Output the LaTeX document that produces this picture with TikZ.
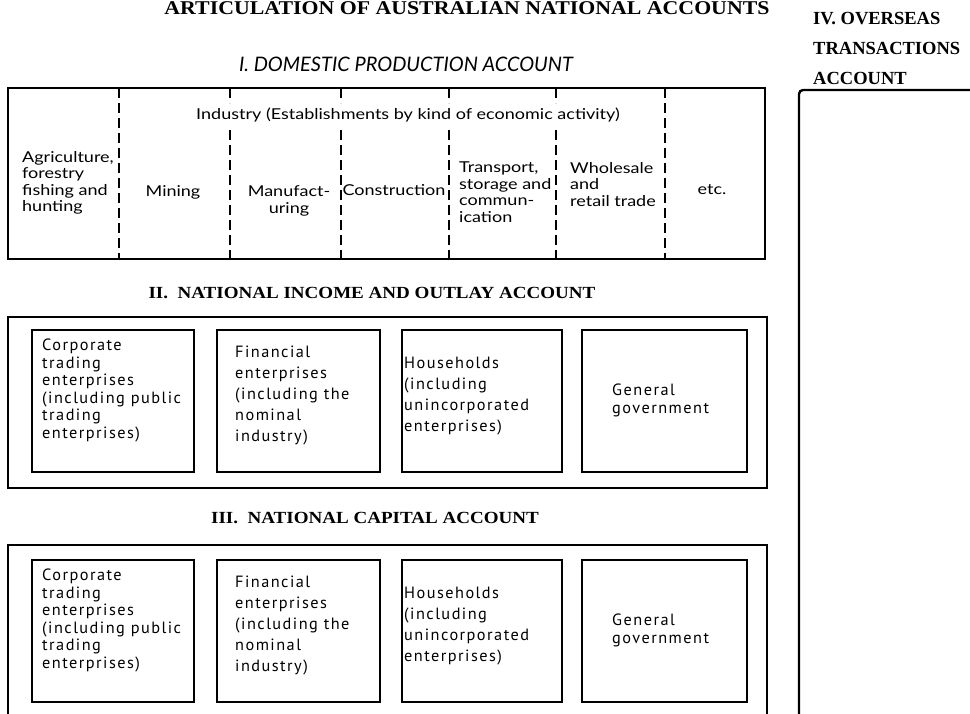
\documentclass[tikz,border=0pt]{standalone}
\usepackage{fontspec}
\setmainfont{Liberation Serif}
\newfontfamily\headfont[FakeStretch=1.12]{Liberation Serif}
\newfontfamily\cellfont[FakeStretch=1.2]{Lato}
\newfontfamily\domfont{Lato}
\newfontfamily\sectorfont[LetterSpace=9]{PT Sans}

\begin{document}
\begin{tikzpicture}[x=1pt,y=-1pt,
  frame/.style={line width=2.4pt},
  sectorbox/.style={line width=1.8pt},
  divider/.style={line width=1.6pt, dash pattern=on 10pt off 5pt},
  heading/.style={font=\headfont\bfseries\fontsize{17}{19}\selectfont, anchor=base},
  cell/.style={font=\cellfont\fontsize{15}{16.5}\selectfont, align=left, inner sep=0pt},
  sector/.style={font=\sectorfont\fontsize{16.3}{17.5}\selectfont, align=left, inner sep=0pt, anchor=north west},
  sectorwide/.style={sector, font=\sectorfont\fontsize{16.3}{21}\selectfont}]
  \useasboundingbox (0,0) rectangle (970,714);

  % titles
  \node[heading, font=\headfont\bfseries\fontsize{19.5}{21}\selectfont] (title) at (467,14.5) {ARTICULATION OF AUSTRALIAN NATIONAL ACCOUNTS};
  \node[anchor=north west, inner sep=0pt, align=left, font=\bfseries\fontsize{18.5}{30}\selectfont] (overseas) at (813,12) {IV. OVERSEAS\\TRANSACTIONS\\ACCOUNT};
  \node[font=\domfont\itshape\fontsize{20}{22}\selectfont] (domestic) at (406,64) {I. DOMESTIC PRODUCTION ACCOUNT};
  \node[heading] (income) at (372,298.5) {II.\ \ NATIONAL INCOME AND OUTLAY ACCOUNT};
  \node[heading] (capital) at (375,523) {III.\ \ NATIONAL CAPITAL ACCOUNT};

  % account frames
  \draw[frame] (8,88) rectangle (765,259);
  \draw[frame] (8,317) rectangle (767,488);
  \draw[frame] (8,720) -- (8,545) -- (767,545) -- (767,720);
  \draw[frame, rounded corners=4pt] (975,90) -- (799,90) -- (799,720);

  % industry columns
  \foreach \x in {119,665}
    \draw[divider] (\x,88) -- (\x,259);
  \foreach \x in {230,341,449,556}{
    \draw[divider] (\x,88) -- (\x,103);
    \draw[divider] (\x,130) -- (\x,259);
  }
  \node[cell] (industry) at (408,115) {Industry (Establishments by kind of economic activity)};
  \node[cell, anchor=north west] (agri) at (22,151) {Agriculture,\\forestry\\fishing and\\hunting};
  \node[cell] (mining) at (173,192) {Mining};
  \node[cell, align=center] (manuf) at (289,201) {Manufact-\\uring};
  \node[cell] (constr) at (394,190) {Construction};
  \node[cell, anchor=north west] (transport) at (459,162) {Transport,\\storage and\\commun-\\ication};
  \node[cell, anchor=north west] (trade) at (570,162) {Wholesale\\and\\retail trade};
  \node[cell] (etc) at (712,190) {etc.};

  % sectors
  \foreach \acc/\dy in {inc/0,cap/230}{
    \foreach \xa/\xb in {32/194,217/380,402/562,582/747}
      \draw[sectorbox] (\xa,330+\dy) rectangle (\xb,472+\dy);
    \node[sector] (\acc-corp) at (42,339+\dy) {Corporate\\trading\\enterprises\\(including public\\trading\\enterprises)};
    \node[sectorwide] (\acc-fin) at (235,346+\dy) {Financial\\enterprises\\(including the\\nominal\\industry)};
    \node[sectorwide] (\acc-hh) at (404,357+\dy) {Households\\(including\\unincorporated\\enterprises)};
    \node[sector] (\acc-gov) at (612,384+\dy) {General\\government};
  }
\end{tikzpicture}
\end{document}
